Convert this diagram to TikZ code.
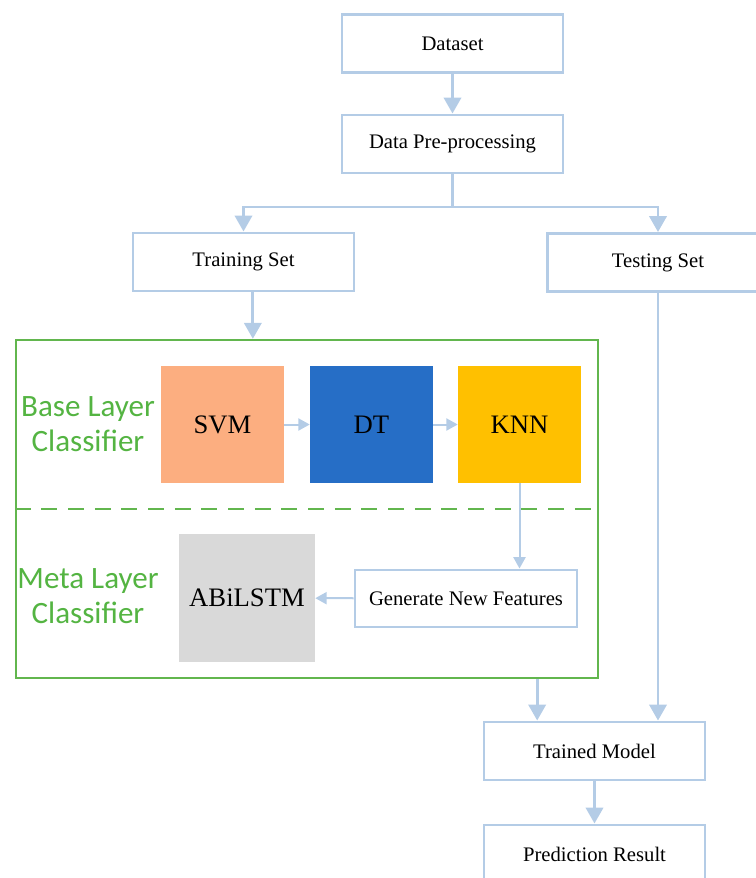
\documentclass[tikz,border=0pt]{standalone}
\usepackage{fontspec}
\setmainfont{Liberation Serif}
\newfontfamily\calibri{Carlito}
\usetikzlibrary{arrows.meta}

\begin{document}
\begin{tikzpicture}[x=0.75pt,y=0.75pt,yscale=-1,xscale=1,
    stepbox/.style={draw={rgb, 255:red, 180; green, 204; blue, 230 }, line width=2.2pt, fill=white, inner sep=0pt, minimum width=165.75pt, minimum height=43.5pt, font=\fontsize{15.5}{18}\selectfont},
    algbox/.style={inner sep=0pt, minimum width=92.25pt, minimum height=87.75pt, font=\fontsize{20}{24}\selectfont},
    layertext/.style={text={rgb, 255:red, 84; green, 180; blue, 66 }, align=center, font=\calibri\fontsize{23.3}{26}\selectfont},
    flow/.style={draw={rgb, 255:red, 180; green, 204; blue, 230 }, line width=2.2pt, -{Triangle[width=13pt,length=12pt]}},
    thinflow/.style={draw={rgb, 255:red, 180; green, 204; blue, 230 }, line width=1.5pt, -{Triangle[width=9pt,length=8.5pt]}},
    flowline/.style={draw={rgb, 255:red, 180; green, 204; blue, 230 }, line width=2.2pt}
]
    \clip (0,0) rectangle (756,878);
    
    %Shape: Rectangle [frame around both layers]
    \node (frame) [draw={rgb, 255:red, 98; green, 182; blue, 78 }, line width=1.8pt, inner sep=0pt, minimum width=436.5pt, minimum height=253.5pt] at (307,509) {};
    %Straight Lines [layer separator]
    \draw [draw={rgb, 255:red, 98; green, 182; blue, 78 }, line width=1.8pt, dash pattern=on 12pt off 8pt] (frame.west) -- (frame.east);
    
    % Text Node
    \node (dataset) [stepbox] at (452.5,43.5) {Dataset};
    % Text Node
    \node (pre) [stepbox] at (452.5,144) {Data Pre-processing};
    % Text Node
    \node (training) [stepbox] at (243.5,262) {Training Set};
    % Text Node
    \node (testing) [stepbox] at (658,262.5) {Testing Set};
    
    %Shape: Square [base classifiers]
    \node (svm) [algbox, fill={rgb, 255:red, 252; green, 174; blue, 128 }] at (222.5,424.5) {SVM};
    \node (dt) [algbox, fill={rgb, 255:red, 38; green, 110; blue, 198 }] at (371.5,424.5) {DT};
    \node (knn) [algbox, fill={rgb, 255:red, 255; green, 192; blue, 0 }] at (519.5,424.5) {KNN};
    %Shape: Square [meta classifier]
    \node (abilstm) [algbox, minimum width=102pt, minimum height=96pt, fill={rgb, 255:red, 217; green, 217; blue, 217 }] at (247,598) {ABiLSTM};
    % Text Node
    \node (newfeat) [stepbox, minimum width=166.5pt, minimum height=42.75pt] at (466,598.5) {Generate New Features};
    
    % Text Node
    \node (trained) [stepbox] at (594.5,751) {Trained Model};
    % Text Node
    \node (result) [stepbox] at (594.5,854) {Prediction Result};
    
    % Text Node
    \node (baselbl) [layertext] at (88,424) {Base Layer\\Classifier};
    % Text Node
    \node (metalbl) [layertext] at (88,596) {Meta Layer\\Classifier};
    
    %Straight Lines [split into training and testing]
    \coordinate (split) at (452.5,207);
    \draw [flow] (dataset) -- (pre);
    \draw [flowline] (pre) -- (split);
    \draw [flow] (split) -| (training);
    \draw [flow] (split) -| (testing);
    \draw [flow] ([xshift=7pt]training.south) -- ([xshift=7pt]training.south |- frame.north);
    
    %Straight Lines [inside the frame]
    \draw [thinflow] (svm) -- (dt);
    \draw [thinflow] (dt) -- (knn);
    \draw [thinflow] (knn.south) -- (knn.south |- newfeat.north);
    \draw [thinflow] (newfeat) -- (abilstm);
    
    %Straight Lines [to the trained model]
    \draw [flow] ([xshift=-43pt]trained.north |- frame.south) -- ([xshift=-43pt]trained.north);
    \draw [flow] (testing.south) -- (testing.south |- trained.north);
    \draw [flow] (trained) -- (result);
\end{tikzpicture}
\end{document}
